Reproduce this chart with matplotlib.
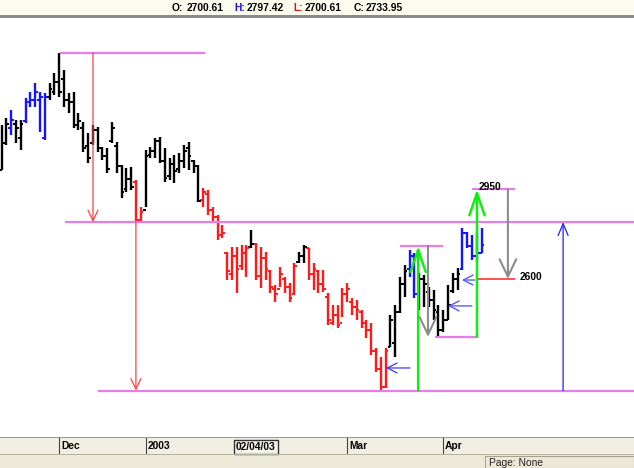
import matplotlib
matplotlib.use("Agg")
import matplotlib.pyplot as plt
from matplotlib.patches import Rectangle

plt.rcParams["font.family"] = ["Liberation Sans", "DejaVu Sans"]

W, H = 634, 468

# OHLC bars, one per trading day (Nov 2002 - Apr 2003)
highs = [3201, 3228, 3259, 3220, 3220, 3306, 3329, 3364, 3329, 3325,
         3364, 3403, 3481, 3415, 3325, 3329, 3247, 3212, 3169, 3201,
         3193, 3115, 3111, 3212, 3134, 3045, 3033, 3037, 2986, 2881,
         3103, 3115, 3150, 3154, 3111, 3072, 3084, 3091, 3123, 3134,
         3064, 3045, 2955, 2947, 2881, 2850, 2811, 2705, 2725, 2725,
         2733, 2733, 2791, 2740, 2725, 2705, 2635, 2577, 2647, 2608,
         2584, 2662, 2705, 2733, 2721, 2662, 2635, 2635, 2545, 2499,
         2499, 2565, 2584, 2526, 2518, 2479, 2440, 2428, 2331, 2296,
         2331, 2460, 2499, 2608, 2655, 2713, 2701, 2623, 2616, 2569,
         2557, 2499, 2479, 2577, 2623, 2643, 2799, 2783, 2772, 2783,
         2797.42]
lows = [3025, 3123, 3162, 3130, 3103, 3208, 3271, 3271, 3173, 3142,
        3298, 3318, 3310, 3271, 3247, 3189, 3181, 3095, 3052, 3123,
        3095, 3064, 3013, 3130, 3013, 2916, 2939, 2947, 2822, 2822,
        2881, 3072, 3072, 3052, 2978, 2986, 2974, 3013, 3033, 3025,
        3013, 2900, 2881, 2850, 2822, 2752, 2760, 2596, 2596, 2545,
        2635, 2608, 2721, 2596, 2565, 2596, 2545, 2510, 2569, 2545,
        2510, 2538, 2662, 2662, 2596, 2557, 2545, 2549, 2421, 2421,
        2409, 2452, 2510, 2460, 2440, 2409, 2370, 2304, 2237, 2159,
        2175, 2335, 2296, 2467, 2530, 2608, 2526, 2479, 2491, 2491,
        2440, 2374, 2393, 2440, 2545, 2557, 2635, 2721, 2674, 2666,
        2700.61]
opens = [3025, 3130, 3190, 3205, 3150, 3215, 3290, 3300, 3300, 3150,
         3310, 3330, 3370, 3380, 3300, 3290, 3200, 3190, 3120, 3130,
         3180, 3110, 3080, 3140, 3120, 3040, 2950, 2990, 2980, 2830,
         2870, 3085, 3100, 3140, 3060, 3000, 3050, 3030, 3060, 3110,
         3060, 3040, 2910, 2930, 2870, 2840, 2770, 2700, 2620, 2690,
         2650, 2700, 2725, 2735, 2610, 2680, 2630, 2560, 2560, 2600,
         2570, 2540, 2665, 2690, 2720, 2620, 2630, 2580, 2530, 2430,
         2460, 2430, 2540, 2510, 2490, 2470, 2430, 2400, 2320, 2250,
         2180, 2335, 2350, 2470, 2580, 2640, 2690, 2540, 2600, 2550,
         2520, 2470, 2400, 2440, 2555, 2600, 2640, 2780, 2730, 2690,
         2700.61]
closes = [3130, 3205, 3220, 3190, 3205, 3290, 3300, 3330, 3310, 3310,
          3340, 3370, 3330, 3300, 3290, 3200, 3215, 3110, 3070, 3180,
          3110, 3080, 3030, 3190, 3040, 2940, 2990, 2960, 2830, 2860,
          3080, 3100, 3140, 3060, 2995, 3050, 3020, 3060, 3100, 3080,
          3040, 2905, 2940, 2870, 2840, 2770, 2780, 2630, 2690, 2640,
          2700, 2720, 2735, 2610, 2680, 2640, 2570, 2540, 2620, 2570,
          2525, 2650, 2690, 2725, 2620, 2640, 2580, 2560, 2440, 2460,
          2420, 2540, 2560, 2490, 2480, 2430, 2400, 2320, 2250, 2180,
          2320, 2440, 2470, 2580, 2630, 2690, 2540, 2600, 2580, 2520,
          2480, 2400, 2440, 2500, 2600, 2620, 2780, 2730, 2690, 2700,
          2733.95]
bar_colors = (["k", "k", "b", "k", "k", "b", "b", "b", "b", "b"]
              + ["k"] * 18 + ["r", "r"] + ["k"] * 12 + ["r"] * 10 + ["k"]
              + ["r"] * 9 + ["k", "k"] + ["r"] * 17 + ["k"] * 4 + ["b", "b"]
              + ["k"] * 9 + ["b"] * 5)
COLORS = {"k": "#000000", "b": "#1414ff", "r": "#ff1a1a"}

tick_bars = [12, 30, 72, 92]
tick_labels = ["Dec", "2003", "Mar", "Apr"]
cursor_bar, cursor_label = 53, "02/04/03"

# header readout for the last bar
ohlc_labels = ["O:", "H:", "L:", "C:"]
ohlc_values = ["2700.61", "2797.42", "2700.61", "2733.95"]

# projection levels
PEAK, NECK, LOW = 3481, 2822, 2165
SWING_HI1, SWING_LO1 = 2729, 2374
TARGET_HI, TARGET_LO = 2950, 2600

# y scale of the original screen: pixel rows 18..437
Y_TOP, Y_BOT = 3617.9, 1983.8
X_LEFT, X_RIGHT = -0.3125, 131.77


def fx(px):
    return px / W


def fy(py):
    return 1 - py / H


fig = plt.figure(figsize=(W / 100, H / 100), dpi=100)
fig.patch.set_facecolor("#ece9d8")

# header strip
fig.add_artist(Rectangle((0, fy(15)), 1, 15 / H, transform=fig.transFigure,
                         facecolor="#fcfbef", edgecolor="none"))
fig.add_artist(Rectangle((0, fy(18)), 1, 3 / H, transform=fig.transFigure,
                         facecolor="#8a8a8a", edgecolor="none"))
hdr_x = [(172, 187), (234, 247), (293, 305), (354, 366)]
hdr_col = ["#000000", "#1010d0", "#e01010", "#000000"]
for (lx, vx), lab, val, col in zip(hdr_x, ohlc_labels, ohlc_values, hdr_col):
    fig.text(fx(lx), fy(8), lab, color=col, fontsize=7.4, fontweight="bold", va="center")
    fig.text(fx(vx), fy(8), val, color="#000000", fontsize=7.4, fontweight="bold", va="center")

# main price area
ax = fig.add_axes([0, fy(437), 1, (437 - 18) / H])
ax.set_facecolor("white")
ax.set_xlim(X_LEFT, X_RIGHT)
ax.set_ylim(Y_BOT, Y_TOP)
for s in ax.spines.values():
    s.set_visible(False)
ax.set_xticks([])
ax.set_yticks([])

n = len(highs)
xs = list(range(n))
cols = [COLORS[c] for c in bar_colors]
ax.vlines(xs, lows, highs, colors=cols, lw=1.7)
ax.hlines(opens, [x - 0.55 for x in xs], xs, colors=cols, lw=1.4)
ax.hlines(closes, xs, [x + 0.55 for x in xs], colors=cols, lw=1.4)

mag = "#e87ce8"
ax.hlines(PEAK, 12.2, 42.4, color=mag, lw=1.6)
ax.hlines(NECK, 13.2, X_RIGHT, color=mag, lw=1.6)
ax.hlines(LOW, 20.1, X_RIGHT, color=mag, lw=1.6)
ax.hlines(SWING_HI1, 83.0, 92.0, color=mag, lw=1.6)
ax.hlines(SWING_LO1, 90.3, 99.1, color=mag, lw=1.6)
ax.hlines(TARGET_HI, 98.0, 107.0, color=mag, lw=1.6)
ax.hlines(TARGET_LO, 99.1, 107.0, color="#ff3030", lw=1.2)


def arrow(x0, y0, x1, y1, color, lw, hl, hw):
    ax.annotate("", xy=(x1, y1), xytext=(x0, y0),
                arrowprops=dict(arrowstyle=f"->,head_length={hl},head_width={hw}",
                                color=color, lw=lw, shrinkA=0, shrinkB=0))


arrow(19.06, PEAK, 19.06, NECK, "#ff4040", 0.9, 0.75, 0.36)
arrow(28.0, NECK, 28.0, LOW, "#ff4040", 0.9, 0.75, 0.36)
arrow(86.8, LOW, 86.8, SWING_HI1, "#10ee10", 1.8, 1.6, 0.55)
arrow(88.85, SWING_HI1, 88.85, SWING_LO1, "#8c8c8c", 1.5, 1.25, 0.6)
arrow(99.06, SWING_LO1, 99.06, TARGET_HI, "#10ee10", 1.8, 1.6, 0.55)
arrow(105.5, TARGET_HI, 105.5, TARGET_LO, "#8c8c8c", 1.5, 1.25, 0.6)
arrow(117.0, LOW, 117.0, NECK, "#2020ff", 0.9, 0.85, 0.36)
arrow(85.1, 2253, 80.1, 2253, "#3a3aff", 0.9, 0.7, 0.36)
arrow(98.0, 2495, 93.0, 2495, "#5a5aff", 1.0, 0.7, 0.36)
arrow(98.6, 2596, 95.9, 2596, "#5a5aff", 1.0, 0.7, 0.36)

ax.text(99.3, 2959, str(TARGET_HI), fontsize=7.4, fontweight="bold", va="center", ha="left")
ax.text(108.0, 2606, str(TARGET_LO), fontsize=7.4, fontweight="bold", va="center", ha="left")

# date axis band
fig.add_artist(Rectangle((0, fy(438)), 1, 1 / H, transform=fig.transFigure,
                         facecolor="#9a9a9a", edgecolor="none"))
bx = fig.add_axes([0, fy(454), 1, 16 / H], sharex=ax)
bx.set_facecolor("#f1efe3")
for s in bx.spines.values():
    s.set_visible(False)
bx.set_ylim(0, 1)
bx.tick_params(left=False, bottom=False, labelleft=False, labelbottom=False)
for b, lab in zip(tick_bars, tick_labels):
    bx.axvline(b, color="#444444", lw=0.8)
    bx.text(b + 0.4, 0.5, lab, fontsize=7.4, fontweight="bold", va="center", ha="left")
bx.text(cursor_bar, 0.45, cursor_label, fontsize=7.4, fontweight="bold", va="center", ha="center",
        bbox=dict(boxstyle="square,pad=0.2", facecolor="#f4f3ea", edgecolor="#333333", lw=1))
fig.add_artist(Rectangle((0, fy(455)), 1, 1 / H, transform=fig.transFigure,
                         facecolor="#b5b2a0", edgecolor="none"))

# status bar
fig.add_artist(Rectangle((fx(485), 0), 149 / W, 12 / H, transform=fig.transFigure,
                         facecolor="#ece9d8", edgecolor="#a5a293", lw=0.8))
fig.text(fx(489), fy(458), "Page: None", fontsize=7.4, va="top", ha="left", color="#222222")

fig.savefig("out.png", dpi=100)
